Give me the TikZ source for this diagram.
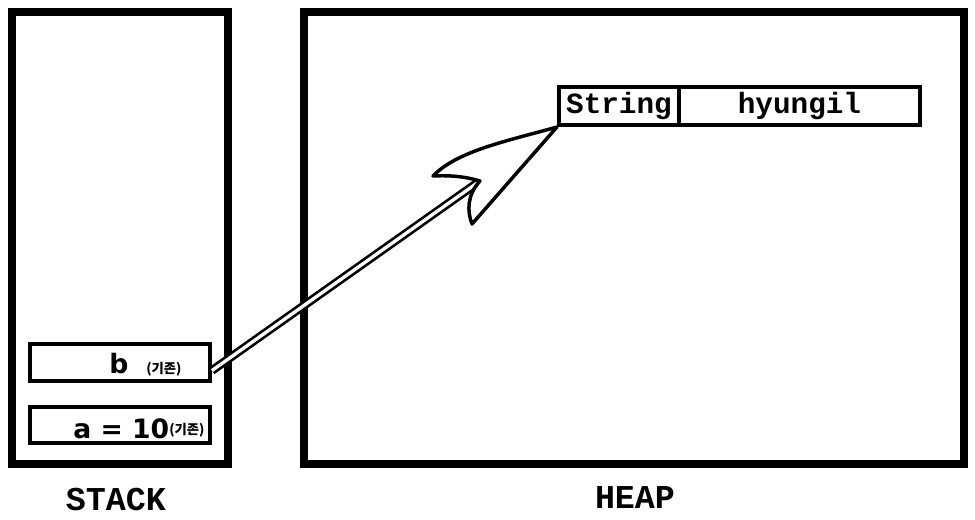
\documentclass[tikz,border=0pt]{standalone}
\usepackage{fontspec}
\newfontfamily\monofont{Liberation Mono}
\newfontfamily\krfont{Noto Sans CJK KR}
\newfontfamily\varfont{DejaVu Sans}
\usetikzlibrary{calc}

\begin{document}
\begin{tikzpicture}[x=0.75pt, y=-0.75pt,
		frame/.style={draw, line width=6.5pt, inner sep=0pt},
		cell/.style={draw, line width=3pt, inner sep=0pt, font=\monofont\bfseries\fontsize{22}{24}\selectfont},
		title/.style={font=\monofont\bfseries\fontsize{25}{28}\selectfont},
		note/.style={anchor=base west, inner sep=0pt, font=\krfont\bfseries\fontsize{10}{12}\selectfont},
		ref/.style={line width=2pt, double, double distance=2.5pt}]
			\useasboundingbox (0,0) rectangle (975,519);
			\node[frame, minimum width=162pt, minimum height=339pt] (stack) at (120,238) {};
			\node[frame, minimum width=495pt, minimum height=339pt] (heap) at (634,238) {};
			\node[cell, minimum width=135pt, minimum height=27.75pt] (bvar) at (120,362.5) {};
			\node[cell, minimum width=135pt, minimum height=27pt] (avar) at (120,425) {};
			\node[cell, minimum width=90pt, minimum height=28.5pt] (strtype) at (619,106) {String};
			\node[cell, minimum width=180.75pt, minimum height=28.5pt] (strval) at (799.5,106) {hyungil};
			\node[anchor=base west, inner sep=0pt, font=\varfont\bfseries\fontsize{20}{24}\selectfont] (bname) at (109,373) {b};
			\node[note] (bnote) at (146,373) {(기존)};
			\node[anchor=base west, inner sep=0pt, font=\varfont\bfseries\fontsize{20}{26}\selectfont] (aname) at (73,438) {a = 10};
			\node[note] (anote) at (169,434) {(기존)};
			\node[title] (stacklabel) at (116,500) {STACK};
			\node[title] (heaplabel) at (635,498) {HEAP};
			\coordinate (tip) at (strtype.south west);
			\coordinate (notch) at ($(tip)+(-77,54)$);
			\draw[ref] ([yshift=-6pt]bvar.east) -- (notch);
			\filldraw[fill=white, line width=2.6pt, line join=round, shift={(tip)}]
				(0,0) .. controls (-50,14) and (-100,24) .. (-124,49)
				.. controls (-105,48) and (-90,50) .. (-77,54)
				.. controls (-90,68) and (-90,84) .. (-85,97) -- cycle;
		\end{tikzpicture}
\end{document}
